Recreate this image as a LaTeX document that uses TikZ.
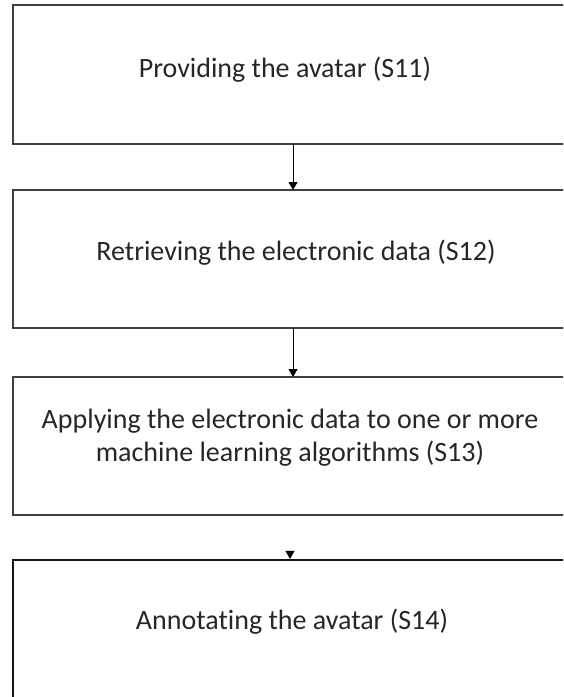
\documentclass[tikz,border=0pt]{standalone}
\usepackage{fontspec}
\setmainfont{Carlito}[Ligatures=NoCommon]
\usetikzlibrary{arrows.meta}
\begin{document}
\begin{tikzpicture}[x=1pt,y=-1pt,
  stepbox/.style={draw=black!75, line width=2.2pt, rectangle, minimum width=557pt, inner sep=0pt},
  steptext/.style={font=\fontsize{28}{33}\selectfont, text=black!85, align=center, inner sep=0pt},
  flow/.style={draw=black, line width=1pt, -{Triangle[width=9pt,length=8pt]}}
]
\useasboundingbox (0,0) rectangle (563,697);
\begin{scope}
\clip (0,0) rectangle (563,697);
% step boxes (right edge runs past the page)
\node[stepbox, minimum height=139pt] (b1) at (291.5,74.5) {};
\node[stepbox, minimum height=138pt] (b2) at (291.5,259) {};
\node[stepbox, minimum height=138pt] (b3) at (291.5,446) {};
\node[stepbox, minimum height=150pt, draw=black!92] (b4) at (291.5,635) {};
% step labels
\node[steptext] (t1) at (285,70) {Providing the avatar (S11)};
\node[steptext] (t2) at (296,253) {Retrieving the electronic data (S12)};
\node[steptext] (t3) at (290,438) {Applying the electronic data to one or more\\machine learning algorithms (S13)};
\node[steptext] (t4) at (292,622) {Annotating the avatar (S14)};
% connectors
\draw[flow] (293,144) coordinate (a1) -- (293,190);
\draw[flow] (293,328) coordinate (a2) -- (293,377);
\coordinate (a3) at (290,551);
\draw[flow] (a3) -- (a3 |- b4.north);
\end{scope}
\end{tikzpicture}
\end{document}
